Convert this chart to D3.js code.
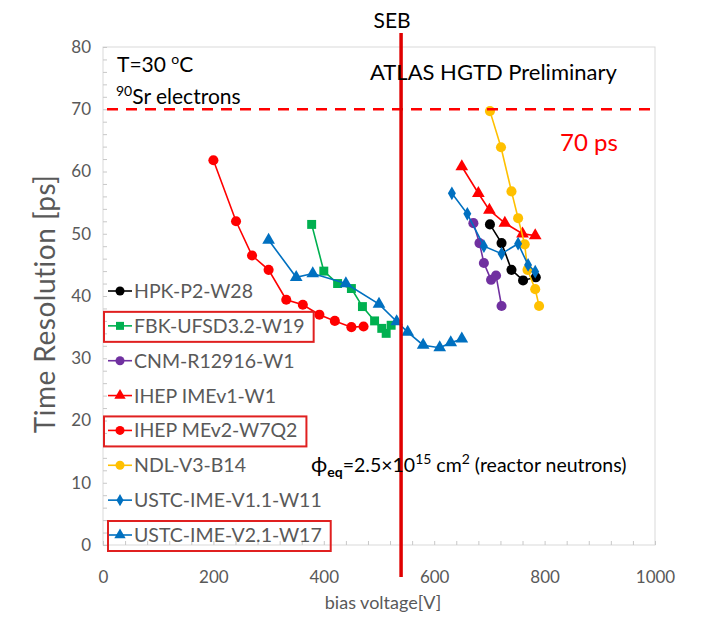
<!DOCTYPE html>
<html>
<head>
<meta charset="utf-8">
<script src="https://cdn.jsdelivr.net/npm/d3@7"></script>
<style>
  body { margin: 0; background: white; }
  svg text { font-family: Lato, "Open Sans", sans-serif; }
</style>
</head>
<body>
<div id="chart"></div>
<script>
// values
var xTicks = [0, 200, 400, 600, 800, 1000];
var yTicks = [0, 10, 20, 30, 40, 50, 60, 70, 80];

var hpkV = [701, 722, 740, 761, 784];
var hpkT = [51.5, 48.5, 44.2, 42.5, 43.0];

var fbkV = [378, 400, 425, 450, 470, 492, 505, 513, 522];
var fbkT = [51.5, 44.0, 42.0, 41.2, 38.3, 36.0, 34.8, 34.0, 35.3];

var cnmV = [671, 682, 690, 703, 712, 722];
var cnmT = [51.7, 48.5, 45.3, 42.6, 43.3, 38.4];

var imev1V = [650, 680, 700, 728, 760, 783];
var imev1T = [60.8, 56.5, 53.8, 51.7, 50.0, 49.7];

var mev2V = [200, 241, 270, 300, 332, 362, 392, 420, 450, 472];
var mev2T = [61.8, 52.0, 46.5, 44.2, 39.4, 38.6, 37.0, 36.0, 35.0, 35.1];

var ndlV = [701, 721, 740, 752, 764, 769, 783, 790];
var ndlT = [69.7, 63.9, 56.8, 52.5, 48.3, 44.2, 41.1, 38.4];

var ustc11V = [632, 660, 690, 722, 752, 770, 783];
var ustc11T = [56.5, 53.2, 48.0, 46.8, 48.4, 45.0, 43.9];

var ustc21V = [300, 350, 380, 440, 500, 532, 552, 580, 610, 630, 650];
var ustc21T = [49.0, 43.0, 43.6, 42.0, 38.7, 35.9, 34.2, 32.1, 31.7, 32.5, 33.1];

var sebVoltage = 540;
var targetPs = 70;

var series = [
  { name: "HPK-P2-W28", v: hpkV, t: hpkT, color: "#000000", shape: d3.symbolCircle, size: 80, boxed: false },
  { name: "FBK-UFSD3.2-W19", v: fbkV, t: fbkT, color: "#00b050", shape: d3.symbolSquare, size: 80, boxed: true },
  { name: "CNM-R12916-W1", v: cnmV, t: cnmT, color: "#7030a0", shape: d3.symbolCircle, size: 80, boxed: false },
  { name: "IHEP IMEv1-W1", v: imev1V, t: imev1T, color: "#ff0000", shape: d3.symbolTriangle, size: 70, boxed: false },
  { name: "IHEP MEv2-W7Q2", v: mev2V, t: mev2T, color: "#ff0000", shape: d3.symbolCircle, size: 80, boxed: true },
  { name: "NDL-V3-B14", v: ndlV, t: ndlT, color: "#ffc000", shape: d3.symbolCircle, size: 80, boxed: false },
  { name: "USTC-IME-V1.1-W11", v: ustc11V, t: ustc11T, color: "#0070c0", shape: d3.symbolDiamond, size: 55, boxed: false },
  { name: "USTC-IME-V2.1-W17", v: ustc21V, t: ustc21T, color: "#0070c0", shape: d3.symbolTriangle, size: 70, boxed: true }
];

var width = 704, height = 617;
var svg = d3.select("#chart").append("svg")
  .attr("width", width)
  .attr("height", height);

svg.append("rect").attr("width", width).attr("height", height).attr("fill", "white");

var x = d3.scaleLinear().domain([0, 1000]).range([103, 655]);
var y = d3.scaleLinear().domain([0, 80]).range([545, 47]);

// plot frame
svg.append("rect")
  .attr("x", x(0)).attr("y", y(80))
  .attr("width", x(1000) - x(0)).attr("height", y(0) - y(80))
  .attr("fill", "none").attr("stroke", "#d9d9d9").attr("stroke-width", 1);

// minor ticks
var minorY = svg.append("g").attr("transform", "translate(" + x(0) + ",0)")
  .call(d3.axisRight(y).ticks(40).tickSize(4).tickFormat(""));
minorY.select(".domain").remove();
minorY.selectAll("line").attr("stroke", "#c8c8c8");

var minorX = svg.append("g").attr("transform", "translate(0," + y(0) + ")")
  .call(d3.axisTop(x).tickValues(d3.range(0, 1001, 40)).tickSize(4).tickFormat(""));
minorX.select(".domain").remove();
minorX.selectAll("line").attr("stroke", "#c8c8c8");

// tick labels
var yAxis = svg.append("g").attr("transform", "translate(" + (x(0) - 12) + ",0)")
  .call(d3.axisLeft(y).tickValues(yTicks).tickSize(0).tickPadding(0).tickFormat(d3.format("d")));
yAxis.select(".domain").remove();
yAxis.selectAll("text").attr("font-size", 17).attr("fill", "#595959")
  .attr("font-family", "Lato, sans-serif");

var xAxis = svg.append("g").attr("transform", "translate(0," + (y(0) + 26) + ")")
  .call(d3.axisBottom(x).tickValues(xTicks).tickSize(0).tickPadding(0).tickFormat(d3.format("d")));
xAxis.select(".domain").remove();
xAxis.selectAll("text").attr("font-size", 17).attr("fill", "#595959")
  .attr("font-family", "Lato, sans-serif");

// axis titles
svg.append("text")
  .attr("transform", "translate(55," + ((y(0) + y(80)) / 2 + 8) + ") rotate(-90)")
  .attr("text-anchor", "middle")
  .attr("font-size", 28).attr("letter-spacing", 0.5).attr("fill", "#595959")
  .text("Time Resolution [ps]");

svg.append("text")
  .attr("x", (x(0) + x(1000)) / 2 + 4).attr("y", 609)
  .attr("text-anchor", "middle")
  .attr("font-size", 18).attr("fill", "#595959")
  .text("bias voltage[V]");

// series
var line = d3.line().x(function(d) { return x(d[0]); }).y(function(d) { return y(d[1]); });

series.forEach(function(s) {
  var pts = s.v.map(function(v, i) { return [v, s.t[i]]; });
  var g = svg.append("g");
  g.append("path").datum(pts)
    .attr("d", line)
    .attr("fill", "none")
    .attr("stroke", s.color)
    .attr("stroke-width", 1.6);
  g.selectAll("path.pt").data(pts).enter().append("path")
    .attr("class", "pt")
    .attr("transform", function(d) { return "translate(" + x(d[0]) + "," + y(d[1]) + ")"; })
    .attr("d", d3.symbol().type(s.shape).size(s.size))
    .attr("fill", s.color);
});

// 70 ps target line
svg.append("line")
  .attr("x1", x(0) + 4).attr("x2", x(1000))
  .attr("y1", y(targetPs)).attr("y2", y(targetPs))
  .attr("stroke", "#ff0000").attr("stroke-width", 2.5)
  .attr("stroke-dasharray", "11,8");

svg.append("text")
  .attr("x", 560).attr("y", 151)
  .attr("font-size", 24).attr("fill", "#ff0000")
  .text("70 ps");

// SEB line
svg.append("line")
  .attr("x1", x(sebVoltage)).attr("x2", x(sebVoltage))
  .attr("y1", 33).attr("y2", 577)
  .attr("stroke", "#e00000").attr("stroke-width", 3.5);

svg.append("text")
  .attr("x", x(sebVoltage) - 9).attr("y", 28)
  .attr("text-anchor", "middle")
  .attr("font-size", 21).attr("fill", "#000")
  .text("SEB");

// annotations
var t1 = svg.append("text").attr("x", 117).attr("y", 72).attr("font-size", 21).attr("fill", "#000");
t1.append("tspan").text("T=30 ");
t1.append("tspan").attr("dy", -8).attr("font-size", 14).text("o");
t1.append("tspan").attr("dy", 8).text("C");

var t2 = svg.append("text").attr("x", 116).attr("y", 104).attr("font-size", 21).attr("fill", "#000");
t2.append("tspan").attr("dy", -8).attr("font-size", 14).text("90");
t2.append("tspan").attr("dy", 8).text("Sr electrons");

svg.append("text")
  .attr("x", 370).attr("y", 80)
  .attr("font-size", 22).attr("fill", "#000")
  .text("ATLAS HGTD Preliminary");

var t3 = svg.append("text").attr("x", 311).attr("y", 472).attr("font-size", 19.5).attr("fill", "#000");
t3.append("tspan").attr("font-size", 22).text("\u03d5");
t3.append("tspan").attr("dy", 5).attr("font-size", 14).attr("font-weight", "bold").text("eq");
t3.append("tspan").attr("dy", -5).text("=2.5\u00d710");
t3.append("tspan").attr("dy", -8).attr("font-size", 14).text("15");
t3.append("tspan").attr("dy", 8).text(" cm");
t3.append("tspan").attr("dy", -8).attr("font-size", 14).text("2");
t3.append("tspan").attr("dy", 8).text(" (reactor neutrons)");

// legend
var legendY = d3.scaleLinear().domain([0, 7]).range([291, 535]);
var legend = svg.append("g");
series.forEach(function(s, i) {
  var cy = legendY(i);
  var g = legend.append("g");
  g.append("line").attr("x1", 108).attr("x2", 132).attr("y1", cy).attr("y2", cy)
    .attr("stroke", s.color).attr("stroke-width", 1.6);
  g.append("path").attr("transform", "translate(120," + cy + ")")
    .attr("d", d3.symbol().type(s.shape).size(s.size * 0.8))
    .attr("fill", s.color);
  var txt = g.append("text").attr("x", 134).attr("y", cy + 7)
    .attr("font-size", 19.5).attr("fill", "#595959").text(s.name);
  if (s.boxed) {
    var w = txt.node().getComputedTextLength();
    var bx = i === 7 ? 108 : 104;
    g.append("rect")
      .attr("x", bx).attr("y", cy - 14)
      .attr("width", 134 + w + 9 - bx).attr("height", 30)
      .attr("fill", "none").attr("stroke", "#e02020").attr("stroke-width", 2);
  }
});
</script>
</body>
</html>
